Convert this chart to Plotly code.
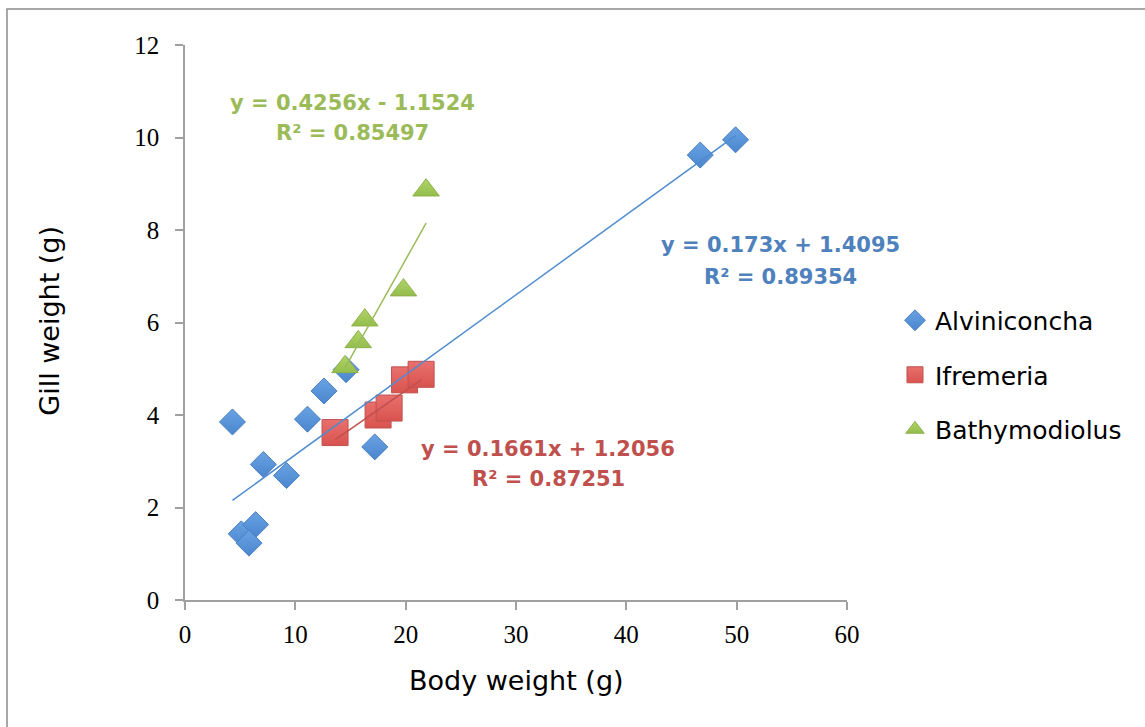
import plotly.graph_objects as go
import numpy as np

# ---- data ----
alv_x = [4.3, 7.1, 9.2, 5.1, 6.4, 5.8, 11.1, 12.6, 14.6, 17.2, 46.7, 49.9]
alv_y = [3.85, 2.93, 2.69, 1.43, 1.63, 1.23, 3.91, 4.52, 4.98, 3.31, 9.62, 9.95]

ifr_x = [13.6, 17.5, 18.5, 19.9, 21.4]
ifr_y = [3.62, 4.0, 4.15, 4.76, 4.88]

bat_x = [14.5, 15.7, 16.3, 19.8, 21.85]
bat_y = [5.04, 5.58, 6.05, 6.7, 8.86]

series_names = ["Alviniconcha", "Ifremeria", "Bathymodiolus"]
slopes = [0.173, 0.1661, 0.4256]
intercepts = [1.4095, 1.2056, -1.1524]
r2 = [0.89354, 0.87251, 0.85497]

x_ticks = [0, 10, 20, 30, 40, 50, 60]
y_ticks = [0, 2, 4, 6, 8, 10, 12]

# ---- styles ----
fills = ["#6aa3e3", "#e8706e", "#b0d46a"]
grads = ["#4a86cf", "#d9534f", "#94bd4c"]
edges = ["#4a7fc0", "#c0504d", "#8fb14a"]
line_cols = ["#4f8ccf", "#c0504d", "#9bbb59"]
text_cols = ["#4f81bd", "#c0504d", "#9bbb59"]
symbols = ["diamond", "square", "triangle-up"]
sizes = [20, 26, 23]

xs = [alv_x, ifr_x, bat_x]
ys = [alv_y, ifr_y, bat_y]

fig = go.Figure()
for i in range(3):
    fig.add_trace(go.Scatter(
        x=xs[i], y=ys[i], mode="markers", name=series_names[i],
        legendgroup=series_names[i],
        marker=dict(symbol=symbols[i], size=sizes[i], color=fills[i],
                    gradient=dict(type="vertical", color=grads[i]),
                    line=dict(color=edges[i], width=1)),
    ))

for i in range(3):
    xr = np.array([min(xs[i]), max(xs[i])])
    fig.add_trace(go.Scatter(
        x=xr, y=slopes[i] * xr + intercepts[i], mode="lines",
        line=dict(color=line_cols[i], width=1.5), showlegend=False,
        hoverinfo="skip",
    ))

SANS = "DejaVu Sans"
eq_font = lambda c: dict(family=SANS, size=21, color=c)

def eq_text(i):
    sign = "+" if intercepts[i] >= 0 else "-"
    return f"<b>y = {slopes[i]:g}x {sign} {abs(intercepts[i]):g}</b>"

def r2_text(i):
    return f"<b>R² = {r2[i]:g}</b>"

# annotation positions (data coords)
eq_pos = [(54.0, 7.68), (32.9, 3.27), (15.14, 10.75)]
r2_pos = [(54.0, 6.98), (32.9, 2.62), (15.14, 10.10)]
annotations = []
for i in range(3):
    annotations.append(dict(x=eq_pos[i][0], y=eq_pos[i][1], text=eq_text(i),
                            showarrow=False, font=eq_font(text_cols[i]),
                            xanchor="center", yanchor="middle"))
    annotations.append(dict(x=r2_pos[i][0], y=r2_pos[i][1], text=r2_text(i),
                            showarrow=False, font=eq_font(text_cols[i]),
                            xanchor="center", yanchor="middle"))

# axis titles
annotations.append(dict(xref="paper", yref="paper", x=0.501, y=-0.145,
                        text="Body weight (g)", showarrow=False,
                        font=dict(family=SANS, size=27, color="black"),
                        xanchor="center", yanchor="middle"))
annotations.append(dict(xref="paper", yref="paper", x=-0.204, y=0.503,
                        text="Gill weight (g)", showarrow=False, textangle=-90,
                        font=dict(family=SANS, size=27, color="black"),
                        xanchor="center", yanchor="middle"))

axis_common = dict(showgrid=False, zeroline=False, showline=True,
                   linecolor="#a0a0a0", linewidth=1.5, ticks="outside",
                   ticklen=8, tickcolor="#a0a0a0", tickwidth=1.5,
                   tickfont=dict(family="Liberation Serif", size=25, color="black"))

fig.update_layout(
    width=1145, height=727,
    margin=dict(l=185, r=298, t=45, b=127, pad=0),
    paper_bgcolor="white", plot_bgcolor="white",
    xaxis=dict(range=[0, 60], tickvals=x_ticks, ticklabelstandoff=3, **axis_common),
    yaxis=dict(range=[0, 12], tickvals=y_ticks, ticklabelstandoff=11, **axis_common),
    legend=dict(x=1.0725, y=0.545, xanchor="left", yanchor="top",
                font=dict(family=SANS, size=25, color="black"),
                tracegroupgap=19, bgcolor="rgba(0,0,0,0)"),
    annotations=annotations,
    shapes=[dict(type="rect", xref="paper", yref="paper",
                 x0=-0.2689, x1=1.6, y0=-0.5, y1=1.0649,
                 line=dict(color="#8c8c8c", width=1.5), layer="below")],
    showlegend=True,
)

fig.write_html("out.html")
